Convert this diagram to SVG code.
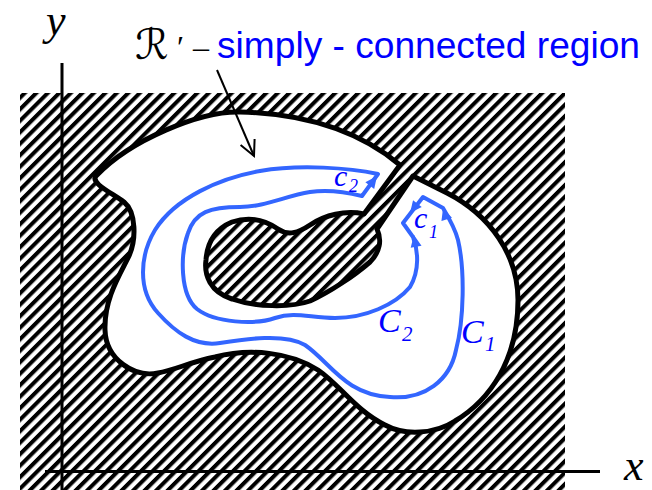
<svg xmlns="http://www.w3.org/2000/svg" width="652" height="490" viewBox="0 0 652 490">
<defs>
<pattern id="hatch" patternUnits="userSpaceOnUse" width="8.13" height="10" patternTransform="rotate(45)">
<rect x="0" y="0" width="4" height="10" fill="#000"/>
</pattern>
<path id="ah" d="M0,0 L-12,-5.5 L-12,5.5 Z" fill="#3366FF"/>
</defs>
<style>
.bnd{fill:#fff;stroke:#000;stroke-width:5;stroke-linejoin:round}
.axis{stroke:#000;stroke-width:3;fill:none}
.blue{fill:none;stroke:#3366FF;stroke-width:4;stroke-linejoin:round}
.lbl{font-family:"Liberation Serif","Times New Roman",serif;font-style:italic;fill:#0000FF}
.ax{font-family:"Liberation Serif","Times New Roman",serif;font-style:italic;fill:#000;font-size:44px}
.ptr{stroke:#000;stroke-width:2;fill:none}
</style>
<rect x="20" y="93" width="545" height="397" fill="url(#hatch)"/>
<g id="axes">
<line class="axis" x1="62" y1="63" x2="62" y2="490"/>
<line class="axis" x1="45" y1="471.5" x2="600" y2="471.5"/>
<text class="ax" x="46" y="35">y</text>
<text class="ax" x="624" y="480">x</text>
</g>
<g id="region">
<path class="bnd" d="M400,165 C370,140 320,114 240,112 C200,111 130,140 96,176 C90,183 112,193 124,202 C136,212 137,240 128,258 C119,276 104,300 105,330 C106,360 135,378 158,373 C175,370 190,362 215,357 C250,348 290,352 318,370 C340,385 355,410 385,425 C405,436 435,434 455,421 C490,400 518,360 518,300 C518,255 490,215 447,193 C435,187 425,182 413,176 L377,229 C382,240 380,252 370,262 C355,275 330,292 310,301 C290,308 255,307 232,299 C210,292 204,275 206,260 C207,245 213,230 232,222 C250,216 265,220 278,229 C288,236 298,233 310,225 C325,215 345,210 364,214 Z"/>
</g>
<g id="contour">
<path class="blue" d="M378,174 C350,168 300,164 260,171 C220,178 175,198 155,230 C140,255 137,290 158,313 C175,332 195,347 220,343 C245,339 285,333 305,345 C330,362 345,395 390,397 C425,400 450,380 456,350 C464,320 465,270 458,240 C455,228 449,218 443,208 L423,197 L403,223 L413,237 C418,250 420,270 410,287 C395,305 365,318 335,318 C310,318 295,311 275,318 C255,325 215,323 197,309 C180,295 180,255 188,233 C195,212 210,207 240,207 C265,207 285,196 310,192 C330,189 350,193 362,196 Z"/>
<use href="#ah" transform="translate(377,176) rotate(-53)"/>
<use href="#ah" transform="translate(443,208) rotate(-108)"/>
<use href="#ah" transform="translate(410,213) rotate(128)"/>
<use href="#ah" transform="translate(414,235) rotate(-100)"/>
</g>
<g id="labels">
<text class="lbl" x="334" y="186" font-size="30">c</text>
<text class="lbl" x="349" y="192" font-size="18">2</text>
<text class="lbl" x="414" y="228" font-size="30">c</text>
<text class="lbl" x="429" y="238" font-size="18">1</text>
<text class="lbl" x="378" y="332" font-size="34">C</text>
<text class="lbl" x="402" y="341" font-size="21">2</text>
<text class="lbl" x="461" y="343" font-size="34">C</text>
<text class="lbl" x="485" y="351" font-size="21">1</text>
</g>
<g id="title">
<text x="135" y="59" font-family="'DejaVu Serif','DejaVu Sans',serif" font-size="42" fill="#000">ℛ</text>
<text x="177" y="58" font-family="'Liberation Serif',serif" font-size="32" fill="#000">′</text>
<text x="193" y="58" font-family="'Liberation Serif',serif" font-size="32" fill="#000">–</text>
<text x="217" y="58" font-family="'Liberation Sans',Arial,sans-serif" font-size="36" fill="#0000FF" textLength="423" lengthAdjust="spacingAndGlyphs">simply - connected region</text>
</g>
<g id="pointer">
<line class="ptr" x1="217" y1="70" x2="254" y2="156"/>
<polyline class="ptr" points="240.6,145 254,156 254.6,139"/>
</g>
</svg>
